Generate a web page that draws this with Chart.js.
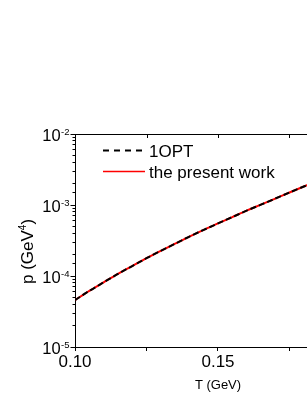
<!DOCTYPE html>
<html>
<head>
<meta charset="utf-8">
<script src="https://cdn.jsdelivr.net/npm/chart.js@4/dist/chart.umd.min.js"></script>
<style>
html,body{margin:0;padding:0;background:#fff;overflow:hidden;width:307px;height:397px;}
#wrap{position:absolute;left:0;top:0;width:380px;height:397px;}
</style>
</head>
<body>
<div id="wrap"><canvas id="c" width="380" height="397"></canvas></div>
<script>
// ---- data ----
const temperatures = [0.100,0.105,0.110,0.115,0.120,0.125,0.130,0.135,0.140,0.145,0.150,0.155,0.160,0.165,0.170,0.175,0.180,0.185,0.190,0.195,0.200];
const pressure1OPT = [4.57e-5,6.17e-5,8.13e-5,1.07e-4,1.38e-4,1.78e-4,2.26e-4,2.85e-4,3.59e-4,4.47e-4,5.50e-4,6.76e-4,8.32e-4,1.01e-3,1.23e-3,1.50e-3,1.82e-3,2.19e-3,2.63e-3,3.16e-3,3.80e-3];
const pressurePresent = [4.57e-5,6.17e-5,8.13e-5,1.07e-4,1.38e-4,1.78e-4,2.26e-4,2.85e-4,3.59e-4,4.47e-4,5.50e-4,6.76e-4,8.32e-4,1.01e-3,1.23e-3,1.50e-3,1.82e-3,2.19e-3,2.63e-3,3.16e-3,3.80e-3];
const seriesNames = ['1OPT', 'the present work'];
const yMajorTicks = [1e-5, 1e-4, 1e-3, 1e-2];
const yMajorExponents = ['-5', '-4', '-3', '-2'];
const xTitle = 'T (GeV)';
const yTitleMain = 'p (GeV';
const yTitleSup = '4';
const yTitleEnd = ')';

const FONT = '"Liberation Sans", Arial, Helvetica, sans-serif';

const decorPlugin = {
  id: 'decor',
  afterDraw(chart) {
    const ctx = chart.ctx;
    const area = chart.chartArea;
    const xs = chart.scales.x, ys = chart.scales.y;
    ctx.save();
    // top frame line with inward ticks
    ctx.strokeStyle = '#000';
    ctx.lineWidth = 1;
    ctx.beginPath();
    ctx.moveTo(area.left, area.top + 0.5);
    ctx.lineTo(area.right, area.top + 0.5);
    xs.ticks.forEach(t => {
      const px = Math.round(xs.getPixelForValue(t.value)) + 0.5;
      ctx.moveTo(px, area.top);
      ctx.lineTo(px, area.top + 4);
    });
    ctx.stroke();
    // longer major ticks on y
    ctx.beginPath();
    yMajorTicks.forEach(v => {
      const py = Math.round(ys.getPixelForValue(v)) + 0.5;
      ctx.moveTo(area.left - 4.5, py);
      ctx.lineTo(area.left, py);
    });
    ctx.stroke();
    // y tick labels 10^n
    ctx.fillStyle = '#000';
    ctx.textBaseline = 'alphabetic';
    yMajorTicks.forEach((v, i) => {
      const py = ys.getPixelForValue(v);
      ctx.font = '9.5px ' + FONT;
      const sw = ctx.measureText(yMajorExponents[i]).width;
      const right = 69.5;
      ctx.textAlign = 'left';
      ctx.fillText(yMajorExponents[i], right - sw, py + 0.5);
      ctx.font = '16.5px ' + FONT;
      ctx.textAlign = 'right';
      ctx.fillText('10', right - sw - 0.5, py + 6.5);
    });
    // y title rotated
    ctx.save();
    ctx.translate(32.5, 251.5);
    ctx.rotate(-Math.PI / 2);
    ctx.font = '17px ' + FONT;
    const w1 = ctx.measureText(yTitleMain).width;
    const w3 = ctx.measureText(yTitleEnd).width;
    ctx.font = '10px ' + FONT;
    const w2 = ctx.measureText(yTitleSup).width;
    let x0 = -(w1 + w2 + w3) / 2;
    ctx.textAlign = 'left';
    ctx.font = '17px ' + FONT;
    ctx.fillText(yTitleMain, x0, 0);
    ctx.font = '10px ' + FONT;
    ctx.fillText(yTitleSup, x0 + w1, -6.5);
    ctx.font = '17px ' + FONT;
    ctx.fillText(yTitleEnd, x0 + w1 + w2, 0);
    ctx.restore();
    // legend
    const ds = chart.data.datasets;
    const dashed = ds.find(d => d.label === seriesNames[0]);
    const solid = ds.find(d => d.label === seriesNames[1]);
    const rows = [150.5, 171.5];
    ctx.strokeStyle = dashed.borderColor;
    ctx.lineWidth = 2;
    ctx.setLineDash([6, 5]);
    ctx.beginPath();
    ctx.moveTo(103, rows[0]);
    ctx.lineTo(146, rows[0]);
    ctx.stroke();
    ctx.setLineDash([]);
    ctx.strokeStyle = solid.borderColor;
    ctx.lineWidth = 1.5;
    ctx.beginPath();
    ctx.moveTo(103, rows[1]);
    ctx.lineTo(145, rows[1]);
    ctx.stroke();
    ctx.font = '17px ' + FONT;
    ctx.fillStyle = '#000';
    ctx.textAlign = 'left';
    ctx.textBaseline = 'alphabetic';
    ctx.fillText(dashed.label, 149, rows[0] + 6);
    ctx.fillText(solid.label, 149, rows[1] + 6);
    ctx.restore();
  }
};

new Chart(document.getElementById('c'), {
  type: 'line',
  data: {
    datasets: [
      {
        label: seriesNames[0],
        data: temperatures.map((t, i) => ({x: t, y: pressure1OPT[i]})),
        borderColor: '#000000',
        borderWidth: 2,
        borderDash: [6, 3],
        pointRadius: 0,
        cubicInterpolationMode: 'monotone',
        fill: false,
        order: 0
      },
      {
        label: seriesNames[1],
        data: temperatures.map((t, i) => ({x: t, y: pressurePresent[i]})),
        borderColor: '#ff0000',
        borderWidth: 2,
        pointRadius: 0,
        cubicInterpolationMode: 'monotone',
        fill: false,
        order: 1
      }
    ]
  },
  options: {
    responsive: false,
    animation: false,
    events: [],
    layout: {padding: {top: 134, left: 0, right: 19, bottom: 0}},
    plugins: {legend: {display: false}, tooltip: {enabled: false}},
    scales: {
      x: {
        type: 'linear',
        min: 0.1,
        max: 0.2,
        afterFit: s => { s.height = 50; },
        ticks: {
          stepSize: 0.025,
          autoSkip: false,
          maxRotation: 0,
          padding: 1,
          color: '#000',
          font: {family: FONT, size: 17},
          callback: v => (Math.abs(v * 20 - Math.round(v * 20)) < 1e-6 ? v.toFixed(2) : '')
        },
        grid: {drawOnChartArea: false, drawTicks: true, tickLength: 4, tickColor: '#000'},
        border: {display: true, color: '#000', width: 1},
        title: {display: true, text: xTitle, color: '#000', font: {family: FONT, size: 13}, padding: {top: 0, bottom: 4}}
      },
      y: {
        type: 'logarithmic',
        min: 1e-5,
        max: 1e-2,
        afterFit: s => { s.width = 75; },
        ticks: {display: true, autoSkip: false, callback: () => '', padding: 0},
        grid: {drawOnChartArea: false, drawTicks: true, tickLength: 2.5, tickColor: '#000'},
        border: {display: true, color: '#000', width: 1}
      }
    }
  },
  plugins: [decorPlugin]
});
</script>
</body>
</html>
